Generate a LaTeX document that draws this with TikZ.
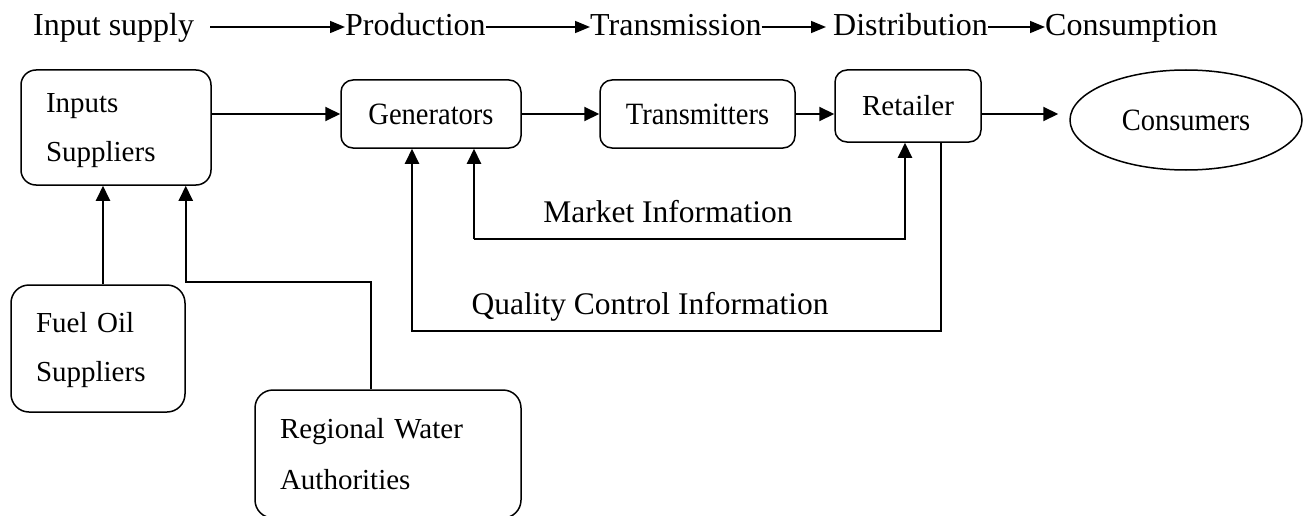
\documentclass[tikz,border=0pt]{standalone}
\usepackage{fontspec}
\setmainfont{Liberation Serif}
\newfontfamily\narrowserif[FakeStretch=0.92]{Liberation Serif}
\usetikzlibrary{arrows.meta,positioning,shapes.geometric,calc}
\tikzset{
  unit/.style={draw, line width=1.5pt, rounded corners=15pt, align=left,
               inner xsep=25pt, inner ysep=0pt, font=\fontsize{29}{49}\selectfont},
  actor/.style={draw, line width=1.5pt, rounded corners=12pt, align=center,
                inner sep=0pt, minimum height=68pt, font=\narrowserif\fontsize{31}{36}\selectfont},
  stage/.style={inner sep=0pt, anchor=base west, font=\fontsize{32}{38}\selectfont},
  note/.style={inner sep=0pt, anchor=base, font=\fontsize{31.5}{38}\selectfont},
  flow/.style={-{Triangle[length=15pt,width=14pt]}, line width=2pt},
  chain/.style={-{Triangle[length=15pt,width=12pt]}, line width=1.5pt},
}

\begin{document}
\begin{tikzpicture}[x=1pt, y=-1pt]
\useasboundingbox (0,0) rectangle (1305,516);

% value chain stages
\node[stage] (supply) at (33,36) {Input supply};
\node[stage] (prod) at (345,36) {Production};
\node[stage] (transm) at (590,36) {Transmission};
\node[stage] (distr) at (833,36) {Distribution};
\node[stage] (consum) at (1045,36) {Consumption};

\draw[chain] ([shift={(16pt,9pt)}]supply.base east) -- ([yshift=9pt]prod.base west);
\draw[chain] ([yshift=9pt]prod.base east) -- ([yshift=9pt]transm.base west);
\draw[chain, shorten >=7pt] ([yshift=9pt]transm.base east) -- ([yshift=9pt]distr.base west);
\draw[chain] ([yshift=9pt]distr.base east) -- ([yshift=9pt]consum.base west);

% players
\node[unit, text width=140pt, minimum height=115pt] (inputs) at (116,127.5) {\rule{0pt}{26pt}Inputs\\Suppliers};
\node[actor, minimum width=180pt] (gen) at (431,114) {Generators};
\node[actor, minimum width=195pt] (trans) at (697.5,114) {Transmitters};
\node[actor, minimum width=146pt, minimum height=72pt,
      font=\fontsize{29}{35}\selectfont] (ret) at (908,106) {Retailer};
\node[actor, ellipse, rounded corners=0pt, minimum width=232pt,
      minimum height=100pt] (cons) at (1186,120) {Consumers};
\node[unit, text width=124pt, minimum height=127pt, rounded corners=18pt] (fuel) at (98,348.5) {\rule{0pt}{24pt}Fuel Oil\\Suppliers};
\node[unit, text width=216pt, minimum height=128pt, rounded corners=18pt,
      font=\fontsize{29}{51}\selectfont] (water) at (388,454) {Regional Water\\Authorities};

% main flow
\draw[flow] (inputs.east |- gen.west) -- (gen.west);
\draw[flow] (gen) -- (trans);
\draw[flow] (trans.east) -- (trans.east -| ret.west);
\draw[flow, shorten >=11pt] (trans.east -| ret.east) -- (trans.east -| cons.west);

% inputs
\coordinate (wup) at (371,282);
\draw[flow] ([xshift=5pt]fuel.north) -- ([xshift=5pt]fuel.north |- inputs.south);
\draw[flow] (water.north -| wup) -- (wup) -- (wup -| fuel.east) -- (fuel.east |- inputs.south);

% information loops
\coordinate (mkL) at (474,239);
\coordinate (mkR) at (905,239);
\draw[flow] (mkL) -- (gen.south -| mkL);
\draw[flow] (mkL) -- (mkR) -- (ret.south -| mkR);
\node[note] (mktext) at (668,222) {Market Information};

\coordinate (qcL) at (412,331);
\coordinate (qcR) at (941,331);
\draw[flow] (ret.south -| qcR) -- (qcR) -- (qcL) -- (gen.south -| qcL);
\node[note] (qctext) at (650,314) {Quality Control Information};
\end{tikzpicture}
\end{document}
